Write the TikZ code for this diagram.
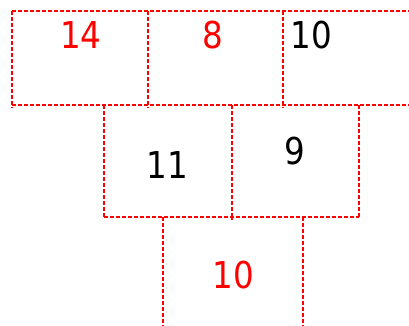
\documentclass[tikz,border=0pt]{standalone}
\usepackage{fontspec}
\setmainfont{DejaVu Sans}[FakeStretch=0.88]
\usepackage{tikz}
\usetikzlibrary{positioning}

\begin{document}
\begin{tikzpicture}[x=1pt, y=1pt,
  grid/.style={draw=red, line width=2.3pt, dash pattern=on 4pt off 2pt},
  num/.style={font=\fontsize{37}{40}\selectfont, inner sep=0pt},
  hot/.style={num, text=red}]
  \useasboundingbox (0,0) rectangle (409,325);
  \clip (0,0) rectangle (409,325);
  % top row
  \draw[grid] (12,314) -- (412,314);
  \draw[grid] (12,220) -- (412,220);
  \foreach \xx in {12,148,283} {
    \draw[grid] (\xx,314) -- (\xx,217);
  }
  % middle row
  \draw[grid] (104,108) -- (359,108);
  \foreach \xx in {104,232,359} {
    \draw[grid] (\xx,220) -- (\xx,108);
  }
  % bottom row
  \foreach \xx in {163,303} {
    \draw[grid] (\xx,108) -- (\xx,-4);
  }
  \draw[grid] (232,108) -- (232,105);
  % numbers
  \node[hot] (n14) at (81,289.5) {14};
  \node[hot] (n8) at (213,289.5) {8};
  \node[num] (n10a) at (311.5,289.5) {10};
  \node[num] (n11) at (167.5,160.3) {11};
  \node[num] (n9) at (294.5,174) {9};
  \node[hot] (n10b) at (233.5,50) {10};
\end{tikzpicture}
\end{document}
